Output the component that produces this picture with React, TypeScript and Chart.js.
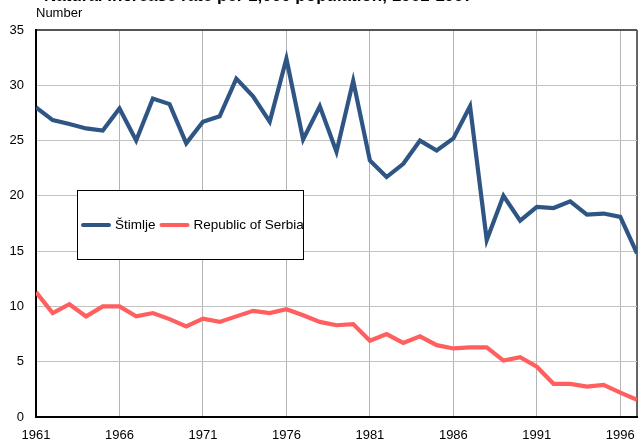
import React, { useEffect, useRef } from "react";
import { Chart, registerables } from "chart.js";

Chart.register(...registerables);

const years: number[] = [
  1961, 1962, 1963, 1964, 1965, 1966, 1967, 1968, 1969, 1970,
  1971, 1972, 1973, 1974, 1975, 1976, 1977, 1978, 1979, 1980,
  1981, 1982, 1983, 1984, 1985, 1986, 1987, 1988, 1989, 1990,
  1991, 1992, 1993, 1994, 1995, 1996, 1997,
];

const stimlje: number[] = [
  28.0, 26.85, 26.5, 26.1, 25.9, 27.9, 25.0, 28.8, 28.3, 24.75,
  26.7, 27.2, 30.6, 29.0, 26.7, 32.4, 25.1, 28.1, 24.0, 30.4,
  23.2, 21.7, 22.9, 25.0, 24.1, 25.2, 28.1, 16.0, 20.0, 17.75,
  19.0, 18.9, 19.5, 18.3, 18.4, 18.1, 14.8,
];

const serbia: number[] = [
  11.3, 9.4, 10.2, 9.1, 10.0, 10.0, 9.1, 9.4, 8.85, 8.2,
  8.9, 8.6, 9.1, 9.6, 9.4, 9.75, 9.2, 8.6, 8.3, 8.4,
  6.9, 7.5, 6.7, 7.3, 6.5, 6.2, 6.3, 6.3, 5.1, 5.4,
  4.55, 3.0, 3.0, 2.75, 2.9, 2.2, 1.55,
];

const seriesNames: string[] = ["Štimlje", "Republic of Serbia"];
const seriesColors: string[] = ["#2F5585", "#FF5F5F"];
const xTickValues: number[] = [1961, 1966, 1971, 1976, 1981, 1986, 1991, 1996, 1997];
const yTickValues: number[] = [0, 5, 10, 15, 20, 25, 30, 35];
const titleText = "Natural increase rate per 1,000 population, 1961-1997";
const yUnitText = "Number";

const FONT = "Arial, 'Liberation Sans', sans-serif";

const extrasPlugin = {
  id: "extras",
  afterDraw(chart: any) {
    const ctx = chart.ctx as CanvasRenderingContext2D;
    const area = chart.chartArea;
    ctx.save();
    // clipped title at very top
    ctx.fillStyle = "#000";
    ctx.font = `bold 17px ${FONT}`;
    ctx.textAlign = "left";
    ctx.textBaseline = "alphabetic";
    ctx.fillText(titleText, 44, 1);
    // unit label
    ctx.font = `13px ${FONT}`;
    ctx.textBaseline = "middle";
    ctx.fillText(yUnitText, area.left, 13.5);

    // legend box
    const bx = 77, by = 190, bw = 226, bh = 69;
    ctx.fillStyle = "#fff";
    ctx.fillRect(bx, by, bw, bh);
    ctx.strokeStyle = "#000";
    ctx.lineWidth = 1;
    ctx.strokeRect(bx + 0.5, by + 0.5, bw, bh);
    const cy = by + 35;
    let x = bx + 4;
    ctx.lineCap = "round";
    ctx.lineWidth = 4;
    ctx.font = `13.5px ${FONT}`;
    ctx.textBaseline = "middle";
    chart.data.datasets.forEach((ds: any) => {
      ctx.strokeStyle = ds.borderColor;
      ctx.beginPath();
      ctx.moveTo(x + 2, cy);
      ctx.lineTo(x + 28, cy);
      ctx.stroke();
      ctx.fillStyle = "#000";
      ctx.fillText(ds.label, x + 34, cy);
      x += 34 + ctx.measureText(ds.label).width + 4;
    });
    ctx.restore();
  },
};

export default function App() {
  const ref = useRef<HTMLCanvasElement | null>(null);

  useEffect(() => {
    if (!ref.current) return;
    const chart = new Chart(ref.current, {
      type: "line",
      data: {
        datasets: [
          {
            label: seriesNames[0],
            data: years.map((y, i) => ({ x: y, y: stimlje[i] })),
            borderColor: seriesColors[0],
            backgroundColor: seriesColors[0],
            borderWidth: 4.2,
            pointRadius: 0,
            tension: 0,
          },
          {
            label: seriesNames[1],
            data: years.map((y, i) => ({ x: y, y: serbia[i] })),
            borderColor: seriesColors[1],
            backgroundColor: seriesColors[1],
            borderWidth: 4.2,
            pointRadius: 0,
            tension: 0,
          },
        ],
      },
      options: {
        animation: false,
        responsive: true,
        maintainAspectRatio: false,
        layout: { padding: { top: 30, right: 6, left: 0, bottom: 0 } },
        plugins: {
          legend: { display: false },
          tooltip: { enabled: false },
          title: { display: false },
        },
        scales: {
          x: {
            type: "linear",
            min: 1961,
            max: 1997,
            afterBuildTicks: (scale: any) => {
              scale.ticks = xTickValues.map((v) => ({ value: v }));
            },
            afterFit: (scale: any) => {
              scale.height = 22;
              scale.paddingLeft = 0;
              scale.paddingRight = 0;
            },
            ticks: {
              autoSkip: false,
              maxRotation: 0,
              padding: 11,
              color: "#000",
              font: { family: FONT, size: 13 },
              callback: (v: any) => (v === 1997 ? "" : String(v)),
            },
            grid: {
              drawTicks: false,
              color: (c: any) => (c.tick && c.tick.value === 1997 ? "#666" : "#b4b4b4"),
              lineWidth: (c: any) => (c.tick && c.tick.value === 1997 ? 2 : 1),
            },
            border: { color: "#000", width: 2 },
          },
          y: {
            min: 0,
            max: 35,
            afterBuildTicks: (scale: any) => {
              scale.ticks = yTickValues.map((v) => ({ value: v }));
            },
            afterFit: (scale: any) => {
              scale.width = 36;
              scale.paddingTop = 0;
              scale.paddingBottom = 0;
            },
            ticks: {
              padding: 12,
              color: "#000",
              font: { family: FONT, size: 13 },
            },
            grid: {
              drawTicks: false,
              color: (c: any) => (c.tick && c.tick.value === 35 ? "#555" : "#c4c4c4"),
              lineWidth: (c: any) => (c.tick && c.tick.value === 35 ? 2 : 1),
            },
            border: { color: "#000", width: 2 },
          },
        },
      },
      plugins: [extrasPlugin],
    });
    return () => chart.destroy();
  }, []);

  return (
    <div style={{ position: "fixed", left: 0, top: 0, width: 643, height: 439, background: "#fff" }}>
      <canvas ref={ref} />
    </div>
  );
}
